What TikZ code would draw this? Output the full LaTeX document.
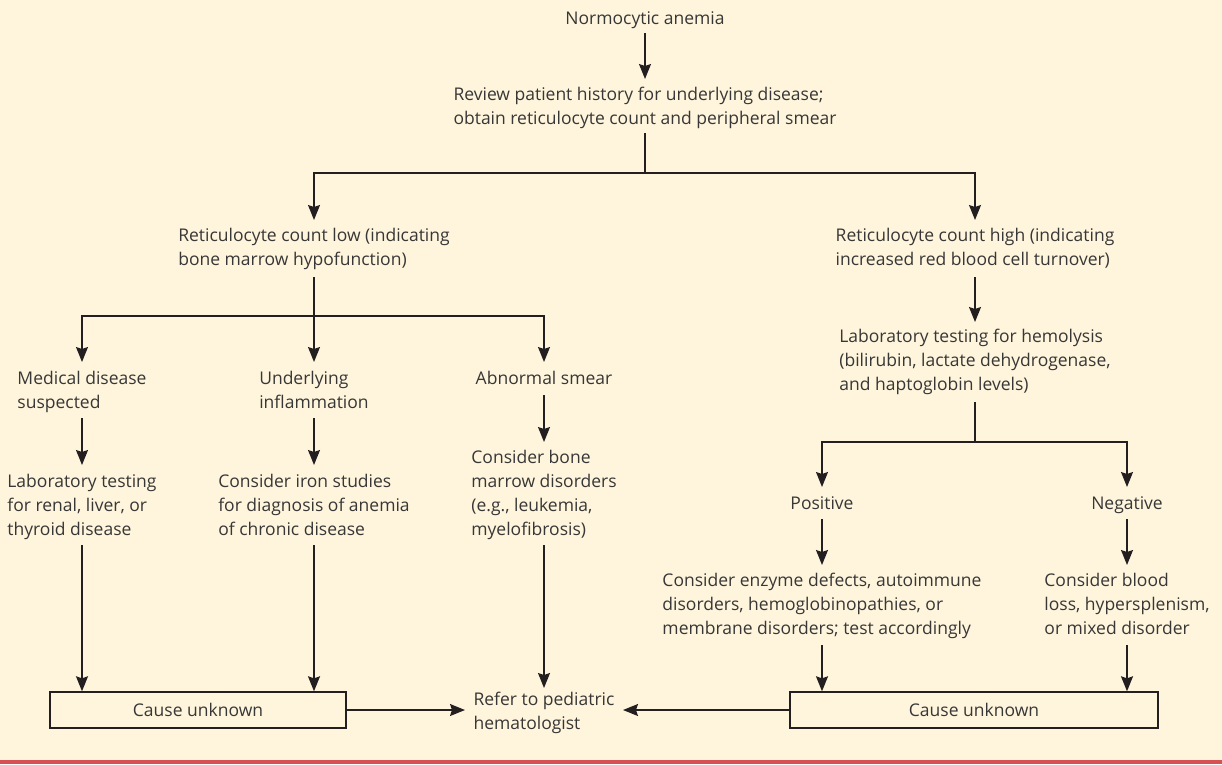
\documentclass[tikz,border=0pt]{standalone}
\usepackage{fontspec}
\setmainfont{Open Sans}
\usetikzlibrary{arrows.meta,calc}
\definecolor{bgc}{RGB}{255,245,220}
\definecolor{txtc}{RGB}{55,55,55}
\definecolor{lnc}{RGB}{35,31,32}
\definecolor{redc}{RGB}{214,82,82}
\begin{document}
\begin{tikzpicture}[x=1pt,y=-1pt,
  lbl/.style={font=\fontsize{17.5}{24}\selectfont, text=txtc, inner sep=0pt, align=left, anchor=base},
  lin/.style={draw=lnc, line width=1.4pt},
  arr/.style={draw=lnc, line width=1.4pt, -{Stealth[length=15pt,width=12pt,inset=2pt]}},
  cbox/.style={draw=lnc, line width=1.4pt, minimum height=36pt, inner sep=0pt,
    font=\fontsize{17.5}{24}\selectfont, text=txtc}]
\fill[bgc] (0,0) rectangle (1222,764);
\useasboundingbox (0,0) rectangle (1222,764);
\fill[redc] (0,760) rectangle (1222,764);

% text nodes (positioned by last baseline)
\node[lbl] (norm) at (645,24) {Normocytic anemia};
\node[lbl] (review) at (645,124) {Review patient history for underlying disease;\\obtain reticulocyte count and peripheral smear};
\node[lbl] (retlow) at (314,265) {Reticulocyte count low (indicating\\bone marrow hypofunction)};
\node[lbl] (rethigh) at (975,265) {Reticulocyte count high (indicating\\increased red blood cell turnover)};
\node[lbl] (med) at (82,408) {Medical disease\\suspected};
\node[lbl] (infl) at (314,408) {Underlying\\inflammation};
\node[lbl] (abn) at (544,384) {Abnormal smear};
\node[lbl] (labr) at (82,535) {Laboratory testing\\for renal, liver, or\\thyroid disease};
\node[lbl] (iron) at (314,535) {Consider iron studies\\for diagnosis of anemia\\of chronic disease};
\node[lbl] (bone) at (544,535) {Consider bone\\marrow disorders\\(e.g., leukemia,\\myelofibrosis)};
\node[lbl] (hemo) at (975,390) {Laboratory testing for hemolysis\\(bilirubin, lactate dehydrogenase,\\and haptoglobin levels)};
\node[lbl] (pos) at (822,509) {Positive};
\node[lbl] (neg) at (1127,509) {Negative};
\node[lbl] (enz) at (822,634) {Consider enzyme defects, autoimmune\\disorders, hemoglobinopathies, or\\membrane disorders; test accordingly};
\node[lbl] (blood) at (1127,634) {Consider blood\\loss, hypersplenism,\\or mixed disorder};
\node[lbl] (refer) at (544,729) {Refer to pediatric\\hematologist};
\node[cbox, minimum width=296pt] (box1) at (198,710) {Cause unknown};
\node[cbox, minimum width=368pt] (box2) at (974,710) {Cause unknown};

% junctions
\coordinate (j1) at (645,173);
\coordinate (j2) at (314,316);
\coordinate (j3) at (975,442);

% connectors
\draw[arr] ($(norm.base)+(0,9)$) -- ($(review.base)+(0,-45)$);
\draw[lin] ($(review.base)+(0,9)$) -- (j1);
\draw[arr] (j1) -| ($(retlow.base)+(0,-45)$);
\draw[arr] (j1) -| ($(rethigh.base)+(0,-45)$);

\draw[arr] ($(retlow.base)+(0,12)$) -- ($(infl.base)+(0,-46)$);
\draw[arr] (j2) -| ($(med.base)+(0,-46)$);
\draw[arr] (j2) -| ($(abn.base)+(0,-22)$);

\draw[arr] ($(med.base)+(0,10)$) -- ($(labr.base)+(0,-70)$);
\draw[arr] ($(infl.base)+(0,10)$) -- ($(iron.base)+(0,-70)$);
\draw[arr] ($(abn.base)+(0,11)$) -- ($(bone.base)+(0,-93)$);

\draw[arr] ($(labr.base)+(0,10)$) -- (labr.base |- box1.north);
\draw[arr] ($(iron.base)+(0,10)$) -- (iron.base |- box1.north);
\draw[arr] ($(bone.base)+(0,10)$) -- ($(refer.base)+(0,-41)$);

\draw[arr] ($(rethigh.base)+(0,12)$) -- ($(hemo.base)+(0,-68)$);
\draw[lin] ($(hemo.base)+(0,12)$) -- (j3);
\draw[arr] (j3) -| ($(pos.base)+(0,-22)$);
\draw[arr] (j3) -| ($(neg.base)+(0,-22)$);

\draw[arr] ($(pos.base)+(0,10)$) -- ($(enz.base)+(0,-69)$);
\draw[arr] ($(neg.base)+(0,10)$) -- ($(blood.base)+(0,-69)$);
\draw[arr] ($(enz.base)+(0,11)$) -- (enz.base |- box2.north);
\draw[arr] ($(blood.base)+(0,11)$) -- (blood.base |- box2.north);

\draw[arr] (box1.east) -- (box1.east -| {$(refer.base)+(-79,0)$});
\draw[arr] (box2.west) -- (box2.west -| {$(refer.base)+(79,0)$});
\end{tikzpicture}
\end{document}
